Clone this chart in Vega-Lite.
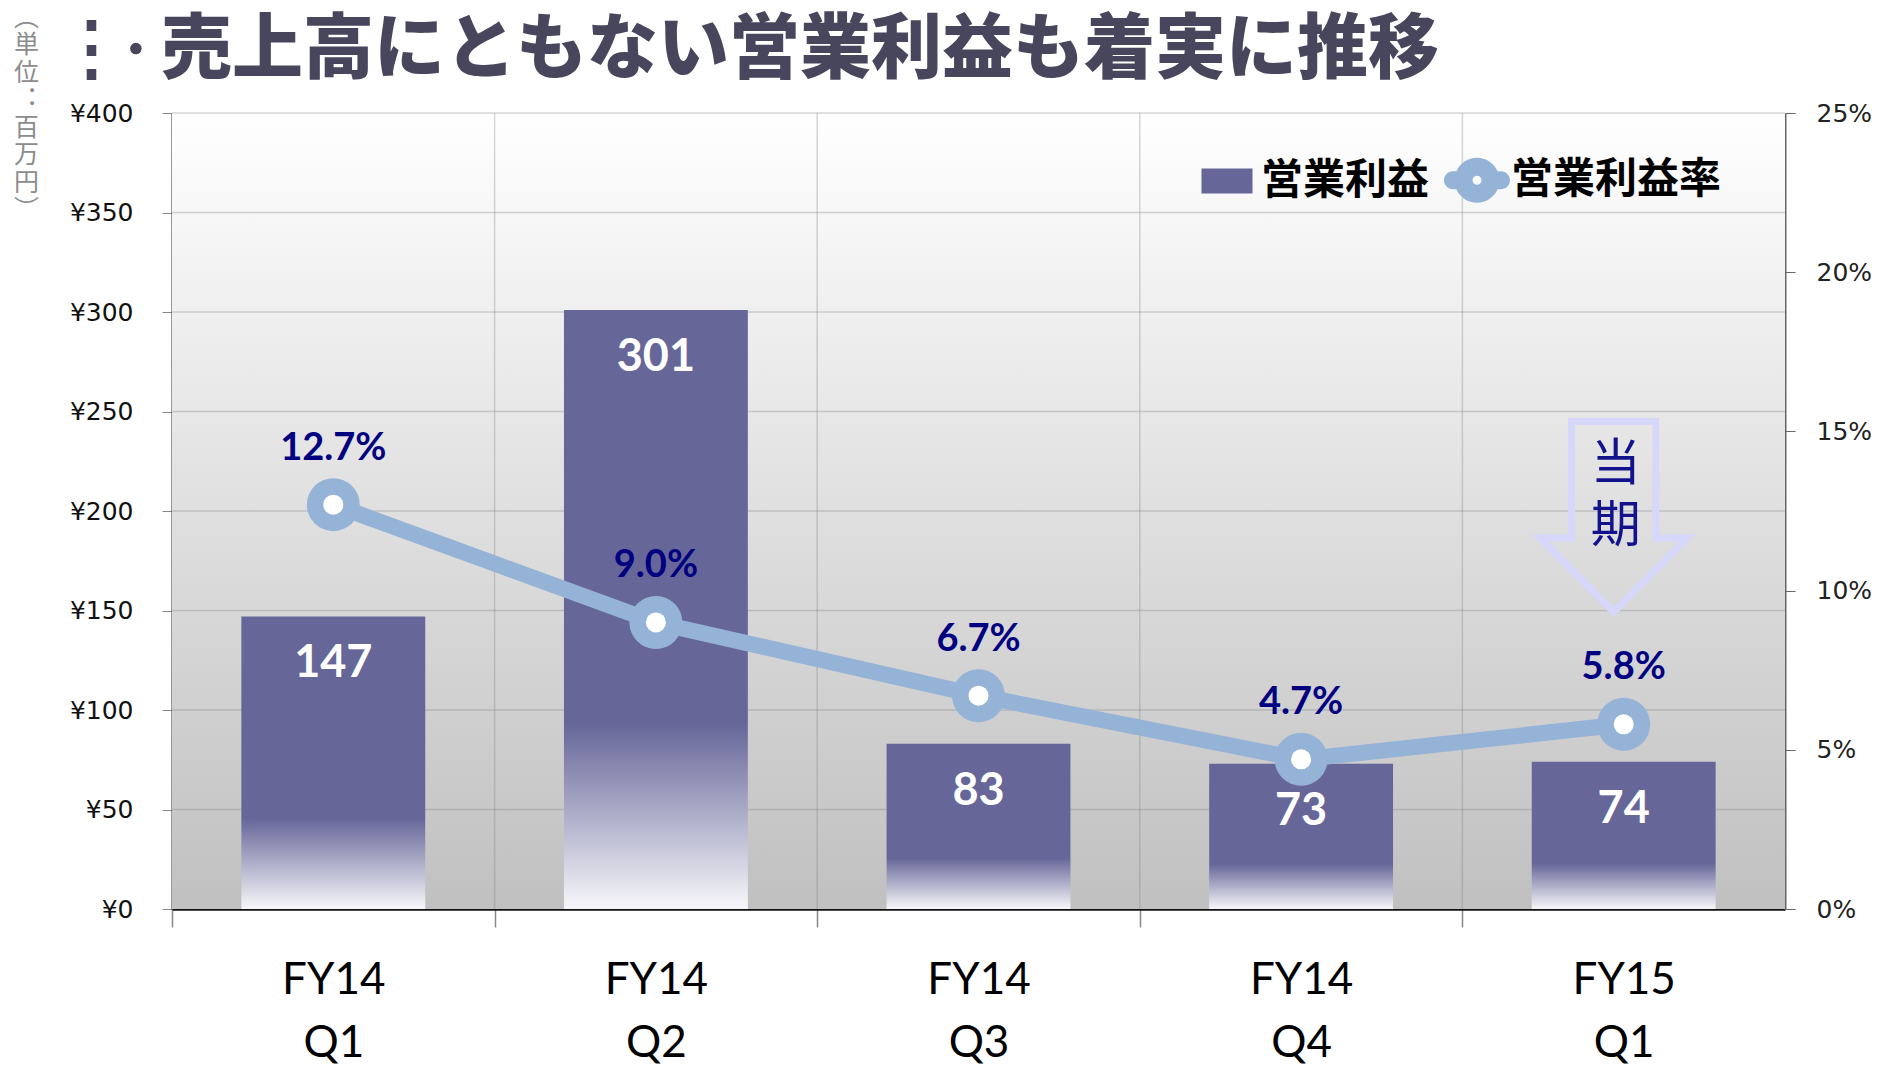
{
  "$schema": "https://vega.github.io/schema/vega-lite/v6.json",
  "width": 1613,
  "height": 796,
  "autosize": {"type": "none"},
  "padding": {"left": 172, "top": 113, "right": 105, "bottom": 157},
  "background": "#ffffff",
  "title": {
    "text": "⋮∙ 売上高にともない営業利益も着実に推移",
    "anchor": "start",
    "frame": "group",
    "font": "Noto Sans CJK JP",
    "fontSize": 71,
    "fontWeight": 900,
    "color": "#48465C",
    "baseline": "alphabetic",
    "offset": -138,
    "dx": -116
  },
  "config": {"view": {"stroke": null}},
  "datasets": {
    "main": [
      {"q": "FY14 Q1", "profit": 147, "rate": 0.127},
      {"q": "FY14 Q2", "profit": 301, "rate": 0.090},
      {"q": "FY14 Q3", "profit": 83, "rate": 0.067},
      {"q": "FY14 Q4", "profit": 73, "rate": 0.047},
      {"q": "FY15 Q1", "profit": 74, "rate": 0.058}
    ],
    "bg": [{"top": 400, "bottom": 0}],
    "hgrid": [{"v": 50}, {"v": 100}, {"v": 150}, {"v": 200}, {"v": 250}, {"v": 300}, {"v": 350}, {"v": 400}],
    "vgrid": [{"q": "FY14 Q2"}, {"q": "FY14 Q3"}, {"q": "FY14 Q4"}, {"q": "FY15 Q1"}],
    "legendrows": [
      {"s": "営業利益"},
      {"s": "営業利益率"}
    ],
    "arrow": [
      {"q": "FY15 Q1", "v": 197.1}
    ],
    "note": [
      {"q": "FY15 Q1", "v": 223, "t": "当\n期"}
    ]
  },
  "layer": [
    {
      "data": {"name": "bg"},
      "mark": {
        "type": "rect",
        "fill": {
          "gradient": "linear",
          "x1": 0, "y1": 0, "x2": 0, "y2": 1,
          "stops": [
            {"offset": 0, "color": "#ffffff"},
            {"offset": 1, "color": "#c0c0c0"}
          ]
        }
      },
      "encoding": {
        "y": {"field": "top", "type": "quantitative", "scale": {"domain": [0, 400], "nice": false}, "axis": null},
        "y2": {"field": "bottom"}
      }
    },
    {
      "data": {"name": "hgrid"},
      "mark": {"type": "rule", "stroke": "#7f7f7f", "strokeWidth": 1.5, "opacity": 0.32},
      "encoding": {
        "y": {"field": "v", "type": "quantitative", "scale": {"domain": [0, 400], "nice": false}, "axis": null}
      }
    },
    {
      "data": {"name": "main"},
      "mark": {
        "type": "bar",
        "fill": {
          "gradient": "linear",
          "x1": 0, "y1": 0, "x2": 0, "y2": 1,
          "stops": [
            {"offset": 0, "color": "#666699"},
            {"offset": 0.69, "color": "#666699"},
            {"offset": 1, "color": "#F7F7FA"}
          ]
        }
      },
      "encoding": {
        "x": {
          "field": "q", "type": "nominal",
          "scale": {"paddingInner": 0.43, "paddingOuter": 0.215},
          "axis": {
            "title": null,
            "labelExpr": "split(datum.label, ' ')",
            "labelFont": "Lato",
            "labelFontSize": 44,
            "labelColor": "#000000",
            "labelLineHeight": 63,
            "labelPadding": 31,
            "labelBaseline": "top",
            "labelAngle": 0,
            "tickOffset": -161.3,
            "labelOffset": 161.3,
            "tickSize": 18,
            "tickColor": "#888888",
            "tickWidth": 1.5,
            "domainColor": "#111111",
            "domainWidth": 2.5,
            "grid": false
          }
        },
        "y": {
          "field": "profit", "type": "quantitative",
          "scale": {"domain": [0, 400], "nice": false},
          "axis": {
            "values": [0, 50, 100, 150, 200, 250, 300, 350, 400],
            "labelExpr": "'¥' + datum.value",
            "grid": false,
            "domainColor": "#333333",
            "domainWidth": 2,
            "tickColor": "#888888",
            "tickSize": 10,
            "labelFont": "DejaVu Sans",
            "labelFontSize": 25,
            "labelColor": "#111111",
            "labelPadding": 29,
            "title": ["︵", "単", "位", "︓", "百", "万", "円", "︶"],
            "titleAngle": 0,
            "titleX": -146,
            "titleY": -108,
            "titleBaseline": "top",
            "titleAlign": "center",
            "titleFont": "Noto Sans CJK JP",
            "titleFontSize": 25,
            "titleFontWeight": "normal",
            "titleColor": "#8c8c8c",
            "titleLineHeight": 27.5
          }
        }
      }
    },
    {
      "data": {"name": "vgrid"},
      "mark": {"type": "rule", "stroke": "#7f7f7f", "strokeWidth": 1.5, "opacity": 0.32, "xOffset": -161.3},
      "encoding": {
        "x": {"field": "q", "type": "nominal"}
      }
    },
    {
      "data": {"name": "main"},
      "mark": {"type": "text", "dy": 47, "baseline": "middle", "align": "center", "font": "Lato", "fontSize": 45, "fontWeight": "bold", "fill": "#ffffff"},
      "encoding": {
        "x": {"field": "q", "type": "nominal"},
        "y": {"field": "profit", "type": "quantitative", "scale": {"domain": [0, 400], "nice": false}, "axis": null},
        "text": {"field": "profit", "type": "quantitative"}
      }
    },
    {
      "data": {"name": "arrow"},
      "mark": {
        "type": "point",
        "shape": "M-0.42,-0.9525 L0.42,-0.9525 L0.42,0.2125 L0.735,0.2125 L0,0.9525 L-0.735,0.2125 L-0.42,0.2125 Z",
        "size": 40000,
        "filled": false,
        "stroke": "#D7D7FC",
        "strokeWidth": 7,
        "opacity": 1,
        "xOffset": -10
      },
      "encoding": {
        "x": {"field": "q", "type": "nominal"},
        "y": {"field": "v", "type": "quantitative", "scale": {"domain": [0, 400], "nice": false}, "axis": null}
      }
    },
    {
      "data": {"name": "note"},
      "mark": {"type": "text", "lineBreak": "\n", "lineHeight": 62, "baseline": "middle", "align": "center", "font": "Noto Sans CJK JP", "fontSize": 50, "fill": "#12128C", "xOffset": -8},
      "encoding": {
        "x": {"field": "q", "type": "nominal"},
        "y": {"field": "v", "type": "quantitative", "scale": {"domain": [0, 400], "nice": false}, "axis": null},
        "text": {"field": "t", "type": "nominal"}
      }
    },
    {
      "data": {"name": "main"},
      "mark": {"type": "line", "stroke": "#95B3D7", "strokeWidth": 16},
      "encoding": {
        "x": {"field": "q", "type": "nominal"},
        "y": {
          "field": "rate", "type": "quantitative",
          "scale": {"domain": [0, 0.25], "nice": false},
          "axis": {
            "orient": "right",
            "values": [0, 0.05, 0.1, 0.15, 0.2, 0.25],
            "format": ".0%",
            "grid": false,
            "domainColor": "#666666",
            "domainWidth": 2,
            "tickColor": "#666666",
            "tickSize": 10,
            "labelFont": "DejaVu Sans",
            "labelFontSize": 25,
            "labelColor": "#222222",
            "labelPadding": 21,
            "title": null
          }
        }
      }
    },
    {
      "data": {"name": "main"},
      "mark": {"type": "point", "filled": true, "size": 2809, "fill": "#95B3D7", "opacity": 1, "strokeWidth": 0},
      "encoding": {
        "x": {"field": "q", "type": "nominal"},
        "y": {"field": "rate", "type": "quantitative", "scale": {"domain": [0, 0.25], "nice": false}, "axis": null}
      }
    },
    {
      "data": {"name": "main"},
      "mark": {"type": "point", "filled": true, "size": 400, "fill": "#ffffff", "opacity": 1, "strokeWidth": 0},
      "encoding": {
        "x": {"field": "q", "type": "nominal"},
        "y": {"field": "rate", "type": "quantitative", "scale": {"domain": [0, 0.25], "nice": false}, "axis": null}
      }
    },
    {
      "data": {"name": "main"},
      "mark": {"type": "text", "dy": -56, "baseline": "middle", "align": "center", "font": "Lato", "fontSize": 38, "fontWeight": "bold", "fill": "#000080"},
      "encoding": {
        "x": {"field": "q", "type": "nominal"},
        "y": {"field": "rate", "type": "quantitative", "scale": {"domain": [0, 0.25], "nice": false}, "axis": null},
        "text": {"field": "rate", "type": "quantitative", "format": ".1%"}
      }
    },
    {
      "data": {"name": "legendrows"},
      "mark": {"type": "point", "filled": true, "opacity": 0},
      "encoding": {
        "color": {
          "field": "s", "type": "nominal",
          "scale": {"domain": ["営業利益", "営業利益率"], "range": ["#666699", "#95B3D7"]},
          "legend": {
            "orient": "none",
            "legendX": 1022,
            "legendY": 34,
            "direction": "horizontal",
            "title": null,
            "symbolSize": 4356,
            "symbolStrokeWidth": 0,
            "symbolOpacity": 1,
            "labelFont": "Noto Sans CJK JP",
            "labelFontSize": 42,
            "labelFontWeight": "bold",
            "labelColor": "#000000",
            "labelOffset": 1,
            "columnPadding": 14,
            "labelLimit": 400
          }
        },
        "shape": {
          "field": "s", "type": "nominal",
          "scale": {
            "domain": ["営業利益", "営業利益率"],
            "range": [
              "M-0.773,-0.379 H0.773 V0.379 H-0.773 Z",
              "M-0.727,-0.273 L-0.625,-0.273 A0.682,0.682 0 0 1 0.625,-0.273 L0.727,-0.273 A0.273,0.273 0 0 1 0.727,0.273 L0.625,0.273 A0.682,0.682 0 0 1 -0.625,0.273 L-0.727,0.273 A0.273,0.273 0 0 1 -0.727,-0.273 Z M0.136,0 A0.136,0.136 0 1 0 -0.136,0 A0.136,0.136 0 1 0 0.136,0 Z"
            ]
          },
          "legend": {
            "orient": "none",
            "legendX": 1022,
            "legendY": 34,
            "direction": "horizontal",
            "title": null,
            "symbolSize": 4356,
            "symbolStrokeWidth": 0,
            "symbolOpacity": 1,
            "labelFont": "Noto Sans CJK JP",
            "labelFontSize": 42,
            "labelFontWeight": "bold",
            "labelColor": "#000000",
            "labelOffset": 1,
            "columnPadding": 14,
            "labelLimit": 400
          }
        }
      }
    }
  ],
  "resolve": {"scale": {"y": "independent"}, "axis": {"y": "independent"}}
}
